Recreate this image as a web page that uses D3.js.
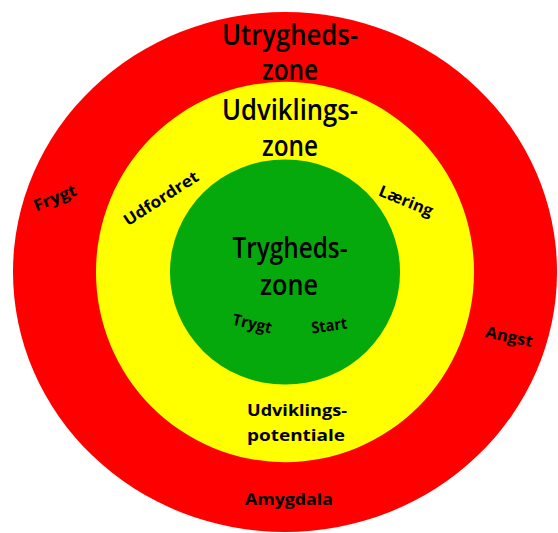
<!DOCTYPE html>
<html>
<head>
<meta charset="utf-8">
<script src="https://cdn.jsdelivr.net/npm/d3@7"></script>
<style>
  body { margin: 0; background: #fff; }
  svg { display: block; }
  text { font-family: "Open Sans", "Noto Sans", sans-serif; fill: #000; }
</style>
</head>
<body>
<svg></svg>
<script>
// zones from outside to inside
var zones = ["Utrygheds-zone", "Udviklings-zone", "Trygheds-zone"];
var zoneColors = ["#ff0000", "#ffff00", "#06a90c"];
// relative size of each ring (horizontal / vertical)
var ringX = [1, 0.695, 0.423];
var ringY = [0.956, 0.699, 0.414];

// zone titles, two lines each
var titleLines = [["Utrygheds-", "zone"], ["Udviklings-", "zone"], ["Trygheds-", "zone"]];

// small words around the rings
var words = ["Frygt", "Udfordret", "Læring", "Trygt", "Start", "Angst",
             "Udviklings-", "potentiale", "Amygdala"];

var svgWidth = 558, svgHeight = 533;
var cx = 285, cy = 272;

var svg = d3.select("svg")
    .attr("width", svgWidth)
    .attr("height", svgHeight);

var rscale = d3.scaleLinear()
    .domain([0, 1])
    .range([0, 272]);

svg.selectAll("ellipse")
    .data(zones)
    .enter()
    .append("ellipse")
    .attr("cx", cx)
    .attr("cy", cy)
    .attr("rx", function(d, i) { return rscale(ringX[i]); })
    .attr("ry", function(d, i) { return rscale(ringY[i]); })
    .attr("fill", function(d, i) { return zoneColors[i]; });

// title layout: x, baseline y, width
var titlePos = [
  [[290, 45, 136], [290, 80, 56]],
  [[290, 120, 136], [290, 156, 56]],
  [[290, 258, 115], [289, 295, 58]]
];

titleLines.forEach(function(lines, i) {
  svg.selectAll("text.t" + i)
    .data(lines)
    .enter()
    .append("text")
    .attr("class", "t" + i)
    .attr("x", function(d, j) { return titlePos[i][j][0]; })
    .attr("y", function(d, j) { return titlePos[i][j][1]; })
    .attr("text-anchor", "middle")
    .attr("font-size", 28)
    .attr("font-weight", 600)
    .attr("textLength", function(d, j) { return titlePos[i][j][2]; })
    .attr("lengthAdjust", "spacingAndGlyphs")
    .text(function(d) { return d; });
});

// word layout: x, baseline y, rotation, width
var wordPos = [
  [57, 203, -22, 45],
  [164, 203, -33, 86],
  [404, 206, 22, 57],
  [251, 329, 13, 40],
  [330, 331, -8, 36],
  [508, 342, 12, 48],
  [297, 416, 0, 100],
  [296, 441, 0, 98],
  [289, 505, 0, 88]
];

svg.selectAll("text.w")
  .data(words)
  .enter()
  .append("text")
  .attr("class", "w")
  .attr("text-anchor", "middle")
  .attr("font-size", 16)
  .attr("font-weight", 700)
  .attr("textLength", function(d, i) { return wordPos[i][3]; })
  .attr("lengthAdjust", "spacingAndGlyphs")
  .attr("transform", function(d, i) {
    return "translate(" + wordPos[i][0] + "," + wordPos[i][1] + ") rotate(" + wordPos[i][2] + ")";
  })
  .text(function(d) { return d; });
</script>
</body>
</html>
